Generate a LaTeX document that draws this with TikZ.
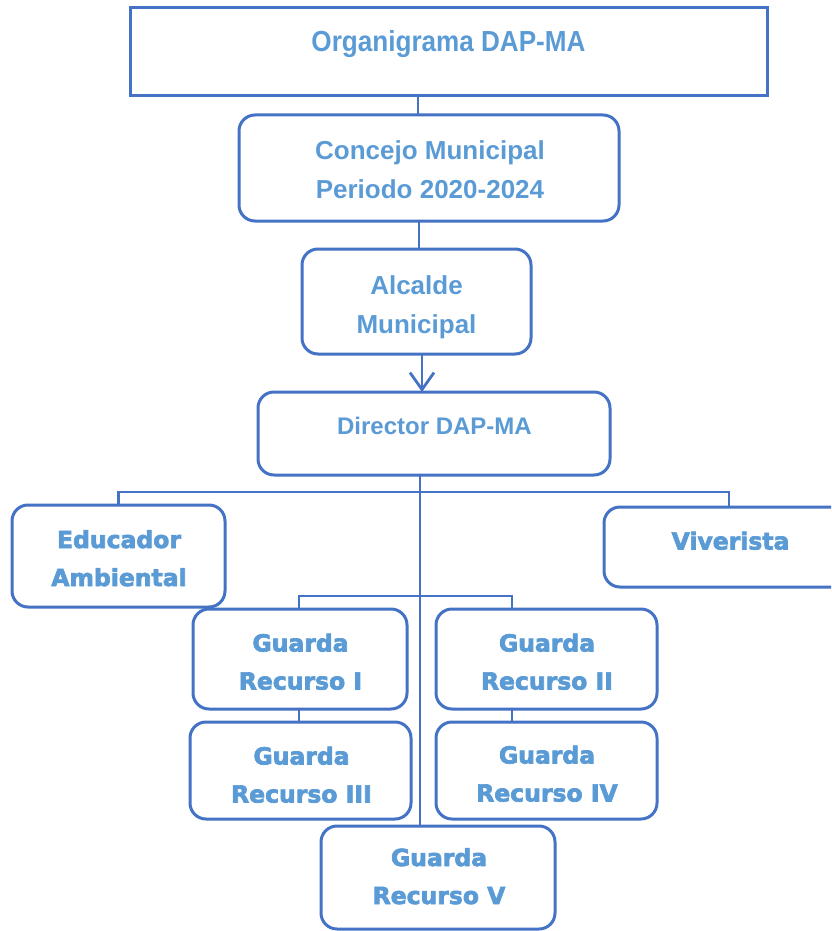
\documentclass[tikz,border=0pt]{standalone}
\usepackage{fontspec}
\usetikzlibrary{arrows.meta}
\newfontfamily\hdfont{Liberation Sans}
\newfontfamily\ttlfont{Liberation Sans}[FakeStretch=0.9]
\newfontfamily\blkfont{DejaVu Sans}[BoldFeatures={FakeBold=3}]
\definecolor{linec}{HTML}{4472C4}
\definecolor{textc}{HTML}{5B9BD5}
\begin{document}
\begin{tikzpicture}[x=1pt,y=-1pt,
  box/.style={draw=linec,line width=3pt,rectangle,rounded corners=16pt,inner sep=0pt,outer sep=0pt},
  conn/.style={draw=linec,line width=2.8pt},
  hdtext/.style={text=textc,font=\hdfont\bfseries\fontsize{26}{38.5}\selectfont,align=center,inner sep=0pt,anchor=base},
  bktext/.style={text=textc,font=\blkfont\bfseries\fontsize{23.5}{38}\selectfont,align=center,inner sep=0pt,anchor=base}]
\useasboundingbox (0,0) rectangle (831,931);
\clip (0,0) rectangle (831,931);
% boxes
\node[box,rounded corners=0pt,minimum width=637pt,minimum height=88pt] (title) at (448.5,52) {};
\node[box,minimum width=380pt,minimum height=106pt] (concejo) at (429,168) {};
\node[box,minimum width=229pt,minimum height=105pt] (alcalde) at (416.5,301.5) {};
\node[box,minimum width=352pt,minimum height=83pt] (director) at (434,433.5) {};
\node[box,minimum width=213pt,minimum height=102pt] (educador) at (118.5,556) {};
\node[box,minimum width=246pt,minimum height=80pt] (viverista) at (727,547) {};
\node[box,minimum width=214pt,minimum height=100pt] (g1) at (300,659) {};
\node[box,minimum width=221pt,minimum height=100pt] (g2) at (546.5,659) {};
\node[box,minimum width=221pt,minimum height=97pt] (g3) at (300.5,770.5) {};
\node[box,minimum width=221pt,minimum height=97pt] (g4) at (546.5,770.5) {};
\node[box,minimum width=234pt,minimum height=103pt] (g5) at (438,877.5) {};
% texts (anchor base = baseline of last line)
\node[hdtext,font=\ttlfont\bfseries\fontsize{29}{35}\selectfont] (ttitle) at (448.5,51.7) {Organigrama DAP-MA};
\node[hdtext] (tconcejo) at (430,198) {Concejo Municipal\\Periodo 2020-2024};
\node[hdtext] (talcalde) at (416.5,333) {Alcalde\\Municipal};
\node[hdtext,font=\hdfont\bfseries\fontsize{24}{30}\selectfont] (tdirector) at (434.5,434) {Director DAP-MA};
\node[bktext] (teducador) at (119,586) {Educador\\Ambiental};
\node[bktext] (tviverista) at (730.5,549.5) {Viverista};
\node[bktext] (tg1) at (300.5,689.5) {Guarda\\Recurso I};
\node[bktext] (tg2) at (547,689.5) {Guarda\\Recurso II};
\node[bktext] (tg3) at (301.5,802.5) {Guarda\\Recurso III};
\node[bktext] (tg4) at (547,801.5) {Guarda\\Recurso IV};
\node[bktext] (tg5) at (439,904) {Guarda\\Recurso V};
% connectors
\coordinate (bar1) at (420,492);
\coordinate (bar2) at (420,596);
\draw[conn] ([xshift=-30.5pt]title.south) -- ([xshift=-11pt]concejo.north);
\draw[conn] ([xshift=-10pt]concejo.south) -- ([xshift=2.5pt]alcalde.north);
\draw[conn,-{Straight Barb[length=17pt,width=24pt]}] ([xshift=5.5pt]alcalde.south) -- ([xshift=-12pt]director.north);
\draw[conn] ([xshift=-14pt]director.south) -- ([xshift=-18pt]g5.north);
\draw[conn] (educador.north) |- (bar1) -| ([xshift=2pt]viverista.north);
\draw[conn] ([xshift=-1pt]g1.north) |- (bar2) -| ([xshift=-34.5pt]g2.north);
\draw[conn] ([xshift=-1pt]g1.south) -- ([xshift=-1.5pt]g3.north);
\draw[conn] ([xshift=-34.5pt]g2.south) -- ([xshift=-34.5pt]g4.north);
\end{tikzpicture}
\end{document}
